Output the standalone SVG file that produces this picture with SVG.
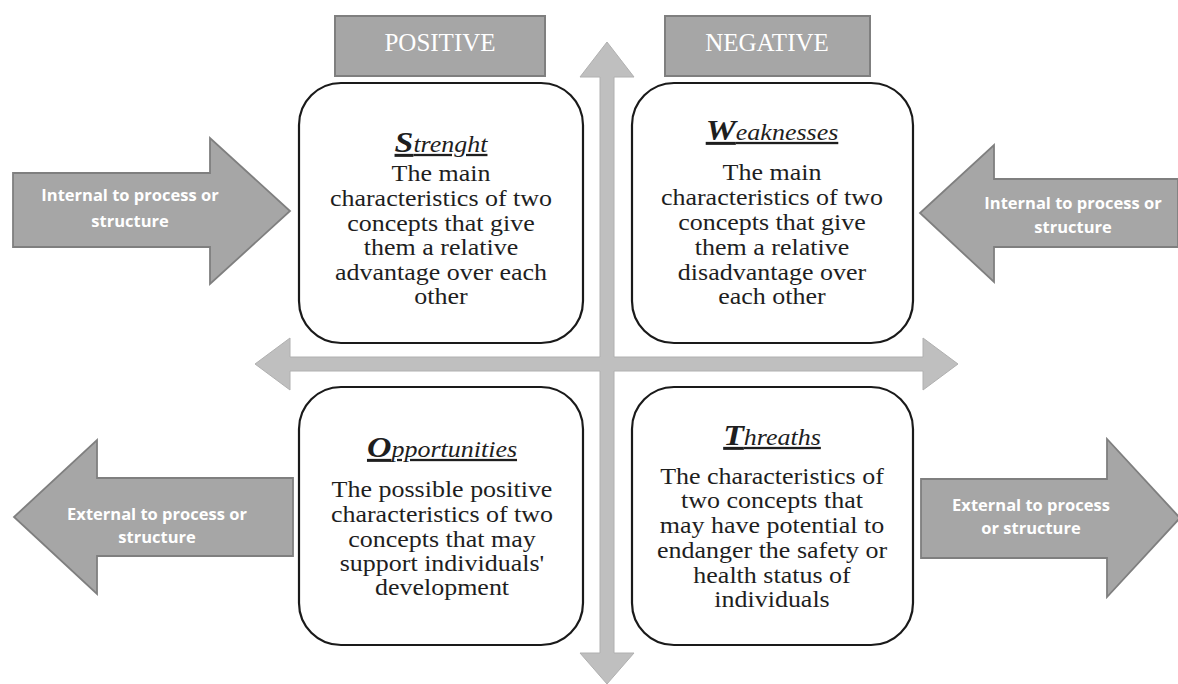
<svg xmlns="http://www.w3.org/2000/svg" width="1178" height="684" viewBox="0 0 1178 684">
<style>
.hdr{fill:#a6a6a6;stroke:#7f7f7f;stroke-width:2}
.hdrt{font-family:"Liberation Serif",serif;font-size:25px;fill:#ffffff;text-anchor:middle}
.box{fill:#ffffff;stroke:#1a1a1a;stroke-width:2.2}
.axis{fill:#bfbfbf;stroke:#b0b0b0;stroke-width:1}
.side{fill:#a6a6a6;stroke:#7f7f7f;stroke-width:1.8}
.sidet{font-family:"Open Sans","Liberation Sans",sans-serif;font-weight:bold;font-size:16.5px;fill:#ffffff;text-anchor:middle}
.body{font-family:"Liberation Serif",serif;font-size:23px;fill:#1e1e1e;text-anchor:middle}
.ttl{font-family:"Liberation Serif",serif;font-style:italic;font-size:23px;fill:#1e1e1e;text-anchor:middle;text-decoration:underline}
.big{font-weight:bold;font-size:30px}
</style>
<rect width="1178" height="684" fill="#ffffff"/>
<g id="axes">
<polygon class="axis" points="607,42 634,77 614,77 614,357 923,357 923,338 958,364 923,390 923,371 614,371 614,653 634,653 607,684 580,653 600,653 600,371 290,371 290,390 255,364 290,338 290,357 600,357 600,77 580,77"/>
</g>
<g id="positive">
<rect class="hdr" x="335" y="16" width="210" height="60"/>
<text class="hdrt" x="440" y="51">POSITIVE</text>
</g>
<g id="negative">
<rect class="hdr" x="665" y="16" width="205" height="60"/>
<text class="hdrt" x="767" y="51">NEGATIVE</text>
</g>
<g id="internal-left">
<polygon class="side" points="13,173 210,173 210,138 290,211 210,284 210,247 13,247"/>
<text class="sidet" x="130" y="201">Internal to process or</text>
<text class="sidet" x="130" y="227">structure</text>
</g>
<g id="internal-right">
<polygon class="side" points="1178,179 994,179 994,145 920,213 994,282 994,247 1178,247"/>
<text class="sidet" x="1073" y="209">Internal to process or</text>
<text class="sidet" x="1073" y="233">structure</text>
</g>
<g id="external-left">
<polygon class="side" points="293,478 97,478 97,440 14,517 97,594 97,556 293,556"/>
<text class="sidet" x="157" y="520">External to process or</text>
<text class="sidet" x="157" y="543">structure</text>
</g>
<g id="external-right">
<polygon class="side" points="921,479 1107,479 1107,439 1180,518 1107,597 1107,558 921,558"/>
<text class="sidet" x="1031" y="511">External to process</text>
<text class="sidet" x="1031" y="534">or structure</text>
</g>
<g id="strength">
<rect class="box" x="299" y="83" width="284" height="260" rx="42"/>
<g transform="translate(441,0) scale(1.13,1)">
<text class="ttl" x="0" y="152"><tspan class="big">S</tspan>trenght</text>
<text class="body" x="0" y="181">The main</text>
<text class="body" x="0" y="206">characteristics  of two</text>
<text class="body" x="0" y="231">concepts that give</text>
<text class="body" x="0" y="255">them  a relative</text>
<text class="body" x="0" y="280">advantage  over each</text>
<text class="body" x="0" y="304">other</text>
</g>
</g>
<g id="weaknesses">
<rect class="box" x="632" y="83" width="281" height="260" rx="42"/>
<g transform="translate(772,0) scale(1.13,1)">
<text class="ttl" x="0" y="140"><tspan class="big">W</tspan>eaknesses</text>
<text class="body" x="0" y="180">The main</text>
<text class="body" x="0" y="205">characteristics  of two</text>
<text class="body" x="0" y="230">concepts that give</text>
<text class="body" x="0" y="255">them  a relative</text>
<text class="body" x="0" y="280">disadvantage  over</text>
<text class="body" x="0" y="304">each other</text>
</g>
</g>
<g id="opportunities">
<rect class="box" x="299" y="387" width="284" height="258" rx="42"/>
<g transform="translate(442,0) scale(1.13,1)">
<text class="ttl" x="0" y="457"><tspan class="big">O</tspan>pportunities</text>
<text class="body" x="0" y="497">The possible positive</text>
<text class="body" x="0" y="522">characteristics  of two</text>
<text class="body" x="0" y="547">concepts that may</text>
<text class="body" x="0" y="571">support individuals'</text>
<text class="body" x="0" y="595">development</text>
</g>
</g>
<g id="threats">
<rect class="box" x="632" y="387" width="281" height="258" rx="42"/>
<g transform="translate(772,0) scale(1.13,1)">
<text class="ttl" x="0" y="445"><tspan class="big">T</tspan>hreaths</text>
<text class="body" x="0" y="484">The characteristics of</text>
<text class="body" x="0" y="508">two concepts that</text>
<text class="body" x="0" y="533">may have potential to</text>
<text class="body" x="0" y="558">endanger the safety or</text>
<text class="body" x="0" y="583">health  status of</text>
<text class="body" x="0" y="607">individuals</text>
</g>
</g>
</svg>
